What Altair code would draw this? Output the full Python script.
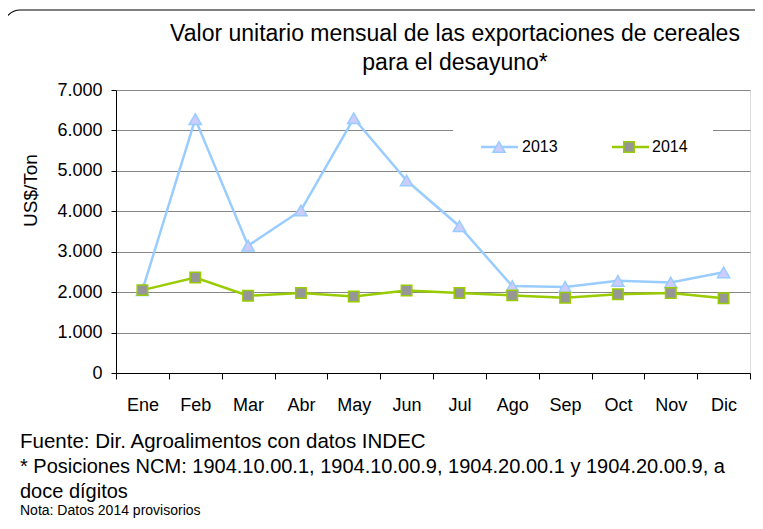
import altair as alt
import pandas as pd

months = ["Ene", "Feb", "Mar", "Abr", "May", "Jun", "Jul", "Ago", "Sep", "Oct", "Nov", "Dic"]
v2013 = [2050, 6280, 3150, 4020, 6300, 4760, 3630, 2150, 2130, 2280, 2240, 2490]
v2014 = [2050, 2360, 1910, 1980, 1890, 2040, 1980, 1920, 1860, 1950, 1980, 1850]
years = ["2013", "2014"]
y_ticks = [0, 1000, 2000, 3000, 4000, 5000, 6000, 7000]
title_lines = ["Valor unitario mensual de las exportaciones de cereales", "para el desayuno*"]
y_title = "US$/Ton"
footer_lines = [
    "Fuente: Dir. Agroalimentos con datos INDEC",
    "* Posiciones NCM:  1904.10.00.1, 1904.10.00.9, 1904.20.00.1 y 1904.20.00.9, a",
    "doce dígitos",
]
note = "Nota: Datos 2014 provisorios"

FONT = "Liberation Sans"
LINE_COLORS = ["#99CCFF", "#99CC00"]

df = pd.DataFrame({
    "mes": months * 2,
    "valor": v2013 + v2014,
    "serie": [years[0]] * 12 + [years[1]] * 12,
})

x_enc = alt.X(
    "mes:N", sort=months,
    scale=alt.Scale(type="band", paddingInner=0, paddingOuter=0),
    axis=alt.Axis(title=None, tickBand="extent", grid=False, labelAngle=0,
                  labelFontSize=18, labelColor="black", labelFont=FONT,
                  labelPadding=17, tickSize=6, tickColor="black",
                  domainColor="black", domainWidth=1),
)
y_enc = alt.Y(
    "valor:Q",
    scale=alt.Scale(domain=[0, 7000], nice=False),
    axis=alt.Axis(values=y_ticks, title=y_title, titleFontSize=19, titleFont=FONT,
                  titleFontWeight="normal", titleColor="black", titleAngle=270,
                  titleX=-86, titleY=100, titleAlign="center", titleBaseline="middle",
                  labelExpr="replace(format(datum.value, ','), ',', '.')",
                  labelFontSize=18, labelFont=FONT, labelColor="black", labelPadding=9,
                  tickSize=5, tickColor="black", domainColor="black",
                  grid=True, gridColor="#868686", gridWidth=1),
)

base = alt.Chart(df)

lines = base.mark_line(strokeWidth=2.5).encode(
    x=x_enc, y=y_enc,
    color=alt.Color("serie:N", scale=alt.Scale(domain=years, range=LINE_COLORS), legend=None),
)
tri = base.transform_filter(alt.datum.serie == years[0]).mark_point(
    shape="triangle-up", filled=True, fill="#CCCCFF", stroke="#99CCFF",
    strokeWidth=1.5, size=150, opacity=1,
).encode(x=x_enc, y=y_enc)
sq = base.transform_filter(alt.datum.serie == years[1]).mark_point(
    shape="square", filled=True, fill="#969696", stroke="#99CC00",
    strokeWidth=1.5, size=110, opacity=1,
).encode(x=x_enc, y=y_enc)

# legend (manual) ---------------------------------------------------------
leg_df = pd.DataFrame({"serie": years})
leg_box = alt.Chart(leg_df).transform_filter(alt.datum.serie == years[0]).mark_rect(
    fill="white", stroke=None).encode(
    x=alt.value(337), x2=alt.value(597), y=alt.value(36), y2=alt.value(76))
leg_l1 = alt.Chart(leg_df).transform_filter(alt.datum.serie == years[0]).mark_rule(
    color=LINE_COLORS[0], strokeWidth=2.5).encode(
    x=alt.value(365), x2=alt.value(402), y=alt.value(57))
leg_p1 = alt.Chart(leg_df).transform_filter(alt.datum.serie == years[0]).mark_point(
    shape="triangle-up", filled=True, fill="#CCCCFF", stroke="#99CCFF",
    strokeWidth=1.5, size=150, opacity=1).encode(x=alt.value(383), y=alt.value(57))
leg_t1 = alt.Chart(leg_df).transform_filter(alt.datum.serie == years[0]).mark_text(
    align="left", baseline="middle", fontSize=16, font=FONT, color="black").encode(
    text="serie:N", x=alt.value(406), y=alt.value(57))
leg_l2 = alt.Chart(leg_df).transform_filter(alt.datum.serie == years[1]).mark_rule(
    color=LINE_COLORS[1], strokeWidth=2.5).encode(
    x=alt.value(496), x2=alt.value(533), y=alt.value(57))
leg_p2 = alt.Chart(leg_df).transform_filter(alt.datum.serie == years[1]).mark_point(
    shape="square", filled=True, fill="#969696", stroke="#99CC00",
    strokeWidth=1.5, size=110, opacity=1).encode(x=alt.value(513), y=alt.value(57))
leg_t2 = alt.Chart(leg_df).transform_filter(alt.datum.serie == years[1]).mark_text(
    align="left", baseline="middle", fontSize=16, font=FONT, color="black").encode(
    text="serie:N", x=alt.value(536), y=alt.value(57))

# titles and footers ------------------------------------------------------
def text_line(s, x, y, size, align):
    return alt.Chart(pd.DataFrame({"t": [s]})).mark_text(
        align=align, baseline="middle", fontSize=size, font=FONT, color="black"
    ).encode(text="t:N", x=alt.value(x), y=alt.value(y))

t1 = text_line(title_lines[0], 339, -56, 23, "center")
t2 = text_line(title_lines[1], 339, -27, 23, "center")
f1 = text_line(footer_lines[0], -96, 352, 20.5, "left")
f2 = text_line(footer_lines[1], -96, 377, 20, "left")
f3 = text_line(footer_lines[2], -96, 402, 20, "left")
f4 = text_line(note, -96, 421, 14, "left")

frame = alt.Chart(leg_df).transform_filter(alt.datum.serie == years[0]).mark_rect(
    fill=None, stroke="black", strokeWidth=1.2, cornerRadius=16).encode(
    x=alt.value(-112), x2=alt.value(680), y=alt.value(-80), y2=alt.value(480))

chart = alt.layer(
    lines, tri, sq, leg_box, leg_l1, leg_p1, leg_t1, leg_l2, leg_p2, leg_t2,
    t1, t2, f1, f2, f3, f4, frame,
).properties(
    width=634, height=283,
    autosize=alt.AutoSizeParams(type="none"),
    padding={"left": 108, "top": 82, "right": 5, "bottom": 148},
).configure_view(stroke="#868686", strokeWidth=1).configure(background="white")

chart.save("out.html", embed_options={"renderer": "svg", "actions": False})
